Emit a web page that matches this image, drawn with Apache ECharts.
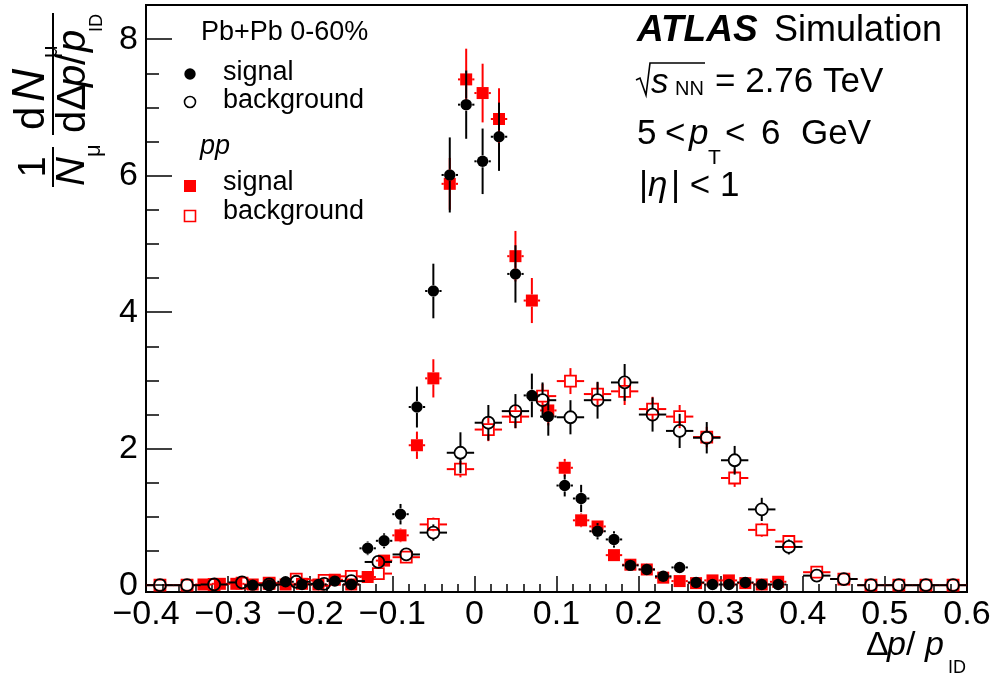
<!DOCTYPE html>
<html>
<head>
<meta charset="utf-8">
<script src="https://cdn.jsdelivr.net/npm/echarts@6/dist/echarts.min.js"></script>
<style>html,body{margin:0;padding:0;background:#fff}#c{width:994px;height:679px}</style>
</head>
<body>
<div id="c"></div>
<script>
// ---- data ----
const sigX = [-0.33,-0.31,-0.29,-0.27,-0.25,-0.23,-0.21,-0.19,-0.17,-0.15,-0.13,-0.11,-0.09,-0.07,-0.05,-0.03,-0.01,0.01,0.03,0.05,0.07,0.09,0.11,0.13,0.15,0.17,0.19,0.21,0.23,0.25,0.27,0.29,0.31,0.33,0.35,0.37];
const pbSig    = [null,null,null,0.00,0.00,0.05,0.01,0.01,0.06,0.01,0.54,0.65,1.04,2.61,4.31,6.01,7.04,6.21,6.57,4.56,2.78,2.47,1.46,1.27,0.79,0.67,0.29,0.23,0.13,0.26,0.04,0.01,0.01,0.04,0.01,0.01];
const pbSigErr = [0,0,0,0.02,0.02,0.03,0.02,0.02,0.03,0.02,0.10,0.11,0.15,0.30,0.40,0.55,0.50,0.48,0.50,0.42,0.32,0.28,0.16,0.20,0.12,0.12,0.06,0.05,0.04,0.06,0.02,0.02,0.02,0.02,0.02,0.02];
const ppSig    = [0.01,0.02,0.02,0.01,0.02,0.01,0.02,0.01,0.08,0.01,0.12,0.36,0.73,2.05,3.03,5.88,7.41,7.21,6.83,4.82,4.17,2.56,1.72,0.95,0.86,0.44,0.30,0.23,0.11,0.06,0.03,0.07,0.07,0.03,0.01,0.05];
const ppSigErr = [0.01,0.02,0.02,0.01,0.02,0.01,0.02,0.01,0.03,0.01,0.04,0.06,0.10,0.20,0.28,0.38,0.45,0.43,0.45,0.37,0.33,0.22,0.13,0.10,0.08,0.06,0.05,0.04,0.03,0.03,0.02,0.03,0.03,0.02,0.01,0.02];

const bkgX = [-0.383,-0.35,-0.317,-0.283,-0.25,-0.217,-0.183,-0.15,-0.117,-0.083,-0.05,-0.017,0.017,0.05,0.083,0.117,0.15,0.183,0.217,0.25,0.283,0.317,0.35,0.383,0.417,0.45,0.483,0.517,0.55,0.583];
const pbBkg    = [0.00,0.00,0.01,0.04,0.01,0.05,0.02,0.06,0.34,0.45,0.77,1.94,2.38,2.55,2.71,2.46,2.71,2.97,2.50,2.26,2.16,1.83,1.11,0.56,0.14,0.09,0.00,0.00,0.00,0.00];
const pbBkgErr = [0.01,0.01,0.02,0.03,0.02,0.03,0.02,0.04,0.07,0.08,0.12,0.30,0.26,0.25,0.26,0.25,0.27,0.27,0.25,0.25,0.23,0.21,0.17,0.11,0.05,0.04,0.01,0.01,0.01,0.01];
const ppBkg    = [0.00,0.00,0.01,0.03,0.03,0.09,0.07,0.13,0.17,0.41,0.89,1.70,2.28,2.47,2.77,2.99,2.80,2.84,2.58,2.47,2.17,1.57,0.81,0.64,0.19,0.09,0.00,0.00,0.00,0.00];
const ppBkgErr = [0.01,0.01,0.01,0.02,0.02,0.03,0.03,0.04,0.05,0.07,0.10,0.12,0.17,0.17,0.18,0.19,0.17,0.20,0.18,0.17,0.15,0.13,0.10,0.08,0.04,0.03,0.01,0.01,0.01,0.01];

const sigHalfWidth = 0.01;
const bkgHalfWidth = 1/60;

const xMajorTicks = [-0.4,-0.3,-0.2,-0.1,0,0.1,0.2,0.3,0.4,0.5,0.6];
const yMajorTicks = [0,2,4,6,8];
const xMinorTicks = []; for (let i = -20; i <= 30; i++) xMinorTicks.push(i/50);
const yMinorTicks = []; for (let i = 0; i <= 16; i++) yMinorTicks.push(i/2);

// ---- helpers ----
const FONT = "'Liberation Sans', Arial, Helvetica, sans-serif";
function rows(xs, ys, es){ const out=[]; for(let i=0;i<xs.length;i++){ if(ys[i]!==null) out.push([xs[i], ys[i], es[i]]); } return out; }

function makeRender(kind, color, hw){
  return function(params, api){
    const x = api.value(0), y = api.value(1), e = api.value(2);
    const c = api.coord([x, y]);
    const top = api.coord([x, y + e])[1];
    const bot = api.coord([x, Math.max(y - e, -0.1)])[1];
    const left = api.coord([x - hw, y])[0];
    const right = api.coord([x + hw, y])[0];
    const g = 6;
    const ls = {stroke: color, lineWidth: 2};
    const ch = [];
    if (c[1] - top > g) ch.push({type:'line', shape:{x1:c[0],y1:top,x2:c[0],y2:c[1]-g}, style:ls});
    if (bot - c[1] > g) ch.push({type:'line', shape:{x1:c[0],y1:c[1]+g,x2:c[0],y2:bot}, style:ls});
    if (c[0] - left > g) ch.push({type:'line', shape:{x1:left,y1:c[1],x2:c[0]-g,y2:c[1]}, style:ls});
    if (right - c[0] > g) ch.push({type:'line', shape:{x1:c[0]+g,y1:c[1],x2:right,y2:c[1]}, style:ls});
    if (kind === 'fcircle') ch.push({type:'circle', shape:{cx:c[0],cy:c[1],r:5.7}, style:{fill:color}});
    if (kind === 'ocircle') ch.push({type:'circle', shape:{cx:c[0],cy:c[1],r:6}, style:{fill:'none', stroke:color, lineWidth:1.8}});
    if (kind === 'fsquare') ch.push({type:'rect', shape:{x:c[0]-6,y:c[1]-6,width:12,height:12}, style:{fill:color}});
    if (kind === 'osquare') ch.push({type:'rect', shape:{x:c[0]-5.5,y:c[1]-5.5,width:11,height:11}, style:{fill:'none', stroke:color, lineWidth:1.8}});
    return {type:'group', children: ch};
  };
}

function fmtX(v){ const r = Math.round(v*10)/10; if (r === 0) return '0'; return (r < 0 ? '\u2212' : '') + Math.abs(r).toFixed(1); }

const chart = echarts.init(document.getElementById('c'), null, {renderer:'canvas'});

const txt = (t, x, y, size, opts) => ({type:'text', style:{text:t, x:x, y:y, font: (opts&&opts.fs||'normal') + ' ' + (opts&&opts.fw||'normal') + ' ' + size + 'px ' + FONT, fill:'#000', align:(opts&&opts.align)||'left', textAlign:(opts&&opts.align)||'left', verticalAlign:'middle', textVerticalAlign:'middle'}});

const graphics = [
  // legend
  txt('Pb+Pb 0-60%', 201, 33, 27),
  {type:'circle', shape:{cx:190, cy:74, r:5.7}, style:{fill:'#000'}},
  txt('signal', 223, 73, 27),
  {type:'circle', shape:{cx:190, cy:102, r:5.5}, style:{fill:'none', stroke:'#000', lineWidth:1.6}},
  txt('background', 223, 101, 27),
  txt('pp', 200, 146, 27, {fs:'italic'}),
  {type:'rect', shape:{x:184, y:180, width:12, height:12}, style:{fill:'#ff0000'}},
  txt('signal', 223, 183, 27),
  {type:'rect', shape:{x:184.5, y:210.5, width:11, height:11}, style:{fill:'none', stroke:'#ff0000', lineWidth:1.6}},
  txt('background', 223, 212, 27),
  // ATLAS label
  txt('ATLAS', 637, 31, 37, {fs:'italic', fw:'bold'}),
  txt('Simulation', 774, 31, 36),
  {type:'polyline', shape:{points:[[636,80],[640,78],[646,95],[650,63],[705,63]]}, style:{fill:'none', stroke:'#000', lineWidth:1.6}},
  txt('s', 651, 83, 35, {fs:'italic'}),
  txt('NN', 675, 89, 20),
  txt('= 2.76 TeV', 715, 82, 35),
  txt('5', 637, 134, 35),
  txt('<', 665, 134, 35),
  txt('p', 689, 134, 35, {fs:'italic'}),
  txt('T', 708, 158, 21),
  txt('<', 725, 134, 35),
  txt('6', 761, 134, 35),
  txt('GeV', 801, 134, 35),
  txt('|', 639, 186, 35),
  txt('\u03b7', 648, 186, 35, {fs:'italic'}),
  txt('| < 1', 671, 186, 35),
  // x-axis title
  txt('\u0394', 866, 646, 34),
  txt('p', 887, 646, 34, {fs:'italic'}),
  txt('/', 906, 646, 34),
  txt('p', 925, 646, 34, {fs:'italic'}),
  txt('ID', 948, 668, 18),
  // y-axis title (rotated)
  {type:'group', x:0, y:200, rotation:Math.PI/2, children:[
    {type:'line', shape:{x1:65, y1:53, x2:187, y2:53}, style:{stroke:'#000', lineWidth:2}},
    {type:'line', shape:{x1:13, y1:53, x2:53, y2:53}, style:{stroke:'#000', lineWidth:2}},
    txt('1', 33, 35, 38, {align:'center'}),
    txt('N', 14, 73, 40, {fs:'italic'}),
    txt('\u03bc', 43, 94, 22),
    txt('d', 70, 32, 42),
    txt('N', 98, 31, 46, {fs:'italic'}),
    txt('\u03bc', 142, 51, 22),
    txt('d\u0394', 67, 74, 40),
    txt('p', 113, 74, 40, {fs:'italic'}),
    txt('/', 135, 74, 40),
    txt('p', 148, 74, 40, {fs:'italic'}),
    txt('ID', 168, 97, 18)
  ]}
];

const option = {
  animation: false,
  backgroundColor: '#fff',
  grid: {left:146, right:27, top:5, bottom:87, show:true, borderColor:'#000', borderWidth:2, backgroundColor:'transparent'},
  xAxis: [
    {type:'value', min:-0.4, max:0.6, position:'bottom',
     axisLine:{show:true, onZero:false, lineStyle:{color:'#000', width:2}},
     axisTick:{show:true, inside:true, length:16, customValues:xMajorTicks, lineStyle:{color:'#000', width:1.5}},
     axisLabel:{show:true, customValues:xMajorTicks, formatter:fmtX, fontSize:34, fontFamily:FONT, color:'#000', margin:6},
     splitLine:{show:false}},
    {type:'value', min:-0.4, max:0.6, position:'bottom',
     axisLine:{show:false, onZero:false},
     axisTick:{show:true, inside:true, length:8, customValues:xMinorTicks, lineStyle:{color:'#000', width:1.5}},
     axisLabel:{show:false}, splitLine:{show:false}}
  ],
  yAxis: [
    {type:'value', min:-0.1, max:8.5, position:'left',
     axisLine:{show:true, onZero:false, lineStyle:{color:'#000', width:2}},
     axisTick:{show:true, inside:true, length:26, customValues:yMajorTicks, lineStyle:{color:'#000', width:1.5}},
     axisLabel:{show:true, customValues:yMajorTicks, fontSize:34, fontFamily:FONT, color:'#000', margin:8},
     splitLine:{show:false}},
    {type:'value', min:-0.1, max:8.5, position:'left',
     axisLine:{show:false, onZero:false},
     axisTick:{show:true, inside:true, length:13, customValues:yMinorTicks, lineStyle:{color:'#000', width:1.5}},
     axisLabel:{show:false}, splitLine:{show:false}}
  ],
  series: [
    {type:'custom', name:'pp signal', xAxisIndex:0, yAxisIndex:0, renderItem:makeRender('fsquare','#ff0000',sigHalfWidth), data:rows(sigX, ppSig, ppSigErr), clip:true},
    {type:'custom', name:'pp background', xAxisIndex:0, yAxisIndex:0, renderItem:makeRender('osquare','#ff0000',bkgHalfWidth), data:rows(bkgX, ppBkg, ppBkgErr), clip:true},
    {type:'custom', name:'PbPb signal', xAxisIndex:0, yAxisIndex:0, renderItem:makeRender('fcircle','#000000',sigHalfWidth), data:rows(sigX, pbSig, pbSigErr), clip:true},
    {type:'custom', name:'PbPb background', xAxisIndex:0, yAxisIndex:0, renderItem:makeRender('ocircle','#000000',bkgHalfWidth), data:rows(bkgX, pbBkg, pbBkgErr), clip:true}
  ],
  graphic: graphics
};
chart.setOption(option);
</script>
</body>
</html>
